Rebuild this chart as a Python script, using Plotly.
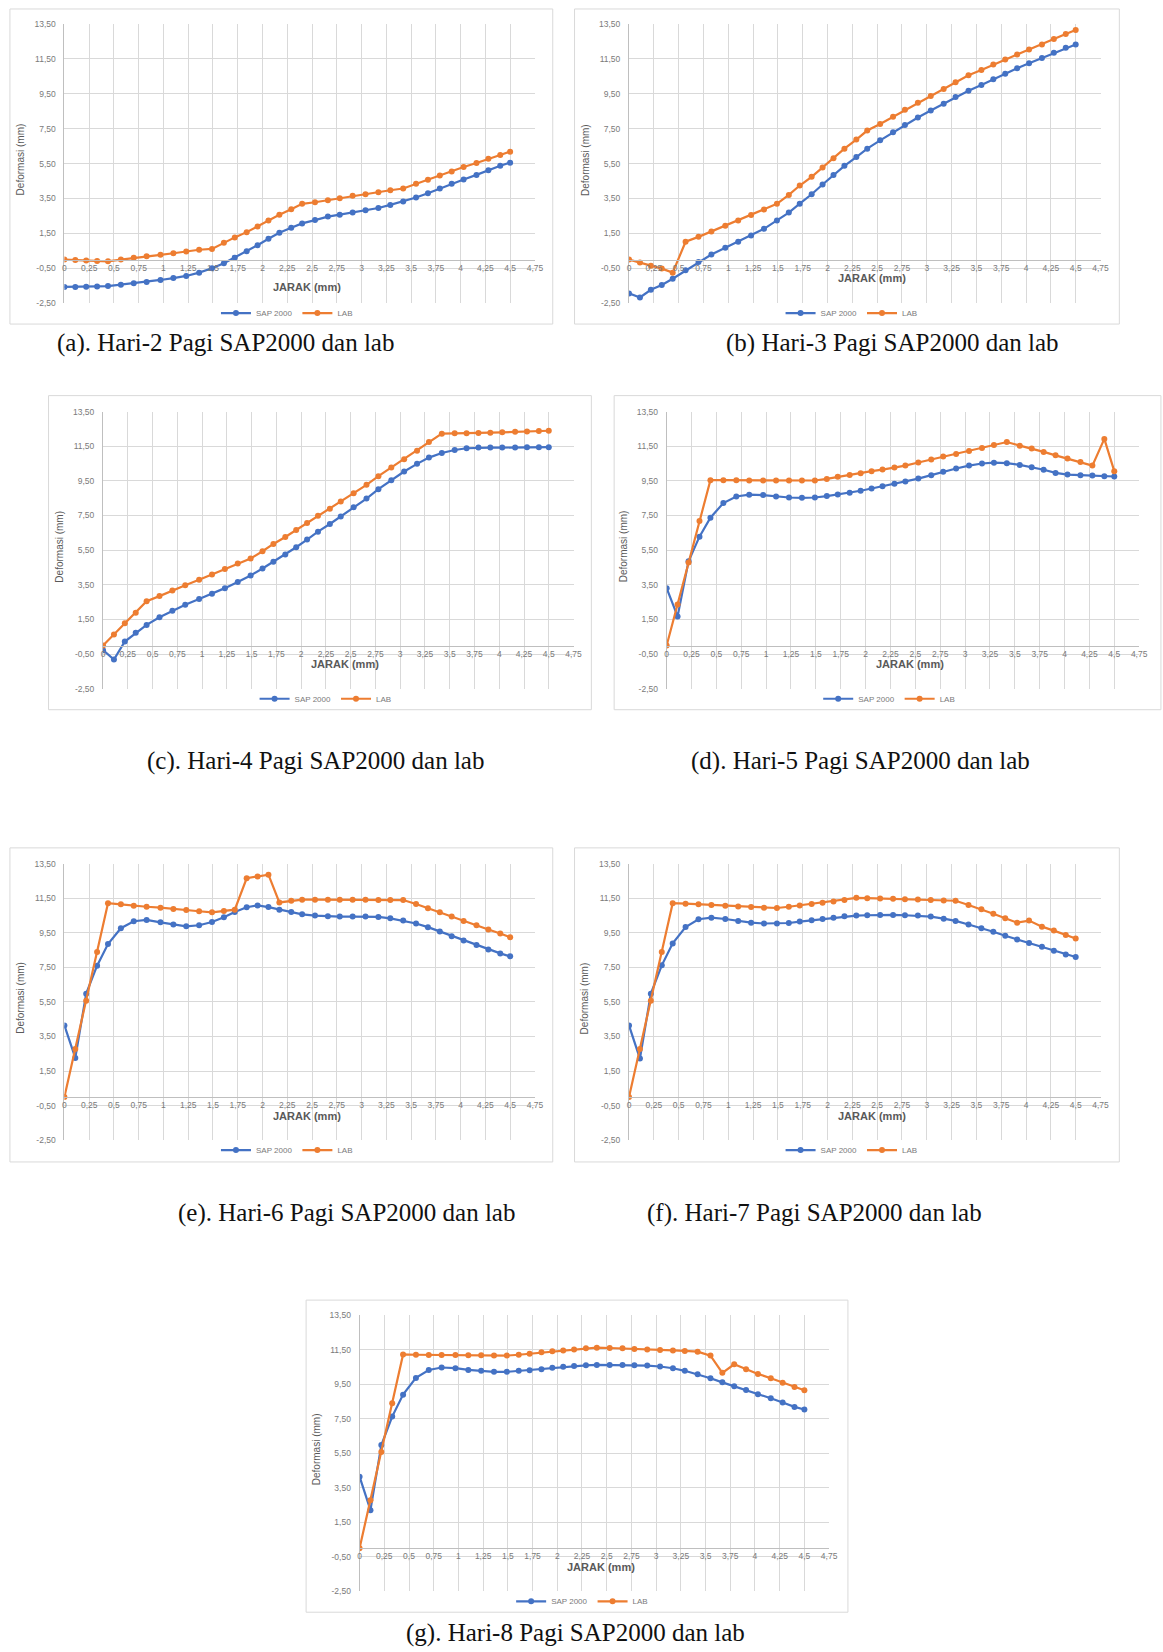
import plotly.graph_objects as go

W, H = 1163, 1652

# x positions (JARAK, mm) of the measured points
X = [0, 0.11, 0.22, 0.33, 0.44, 0.57, 0.70, 0.83, 0.97, 1.10, 1.23, 1.36, 1.49,
     1.61, 1.72, 1.84, 1.95, 2.06, 2.17, 2.29, 2.40, 2.53, 2.66, 2.78, 2.91,
     3.04, 3.17, 3.29, 3.42, 3.55, 3.67, 3.79, 3.91, 4.03, 4.16, 4.28, 4.40, 4.50]

# axis ticks
XT = [0, 0.25, 0.5, 0.75, 1, 1.25, 1.5, 1.75, 2, 2.25, 2.5, 2.75, 3, 3.25, 3.5, 3.75, 4, 4.25, 4.5, 4.75]
XTL = ["0", "0,25", "0,5", "0,75", "1", "1,25", "1,5", "1,75", "2", "2,25", "2,5", "2,75",
       "3", "3,25", "3,5", "3,75", "4", "4,25", "4,5", "4,75"]
YT = [-2.5, -0.5, 1.5, 3.5, 5.5, 7.5, 9.5, 11.5, 13.5]
YTL = ["-2,50", "-0,50", "1,50", "3,50", "5,50", "7,50", "9,50", "11,50", "13,50"]

# (a) Hari-2
sap_a = [-1.57, -1.57, -1.56, -1.54, -1.52, -1.44, -1.36, -1.29, -1.17, -1.06, -0.94, -0.75, -0.50,
         -0.21, 0.11, 0.48, 0.82, 1.19, 1.53, 1.82, 2.07, 2.26, 2.46, 2.57, 2.69, 2.82, 2.95,
         3.13, 3.32, 3.55, 3.80, 4.07, 4.34, 4.59, 4.85, 5.12, 5.37, 5.55]
lab_a = [0.00, -0.02, -0.06, -0.08, -0.10, 0.00, 0.10, 0.19, 0.27, 0.36, 0.46, 0.56, 0.61,
         0.96, 1.27, 1.57, 1.90, 2.23, 2.57, 2.88, 3.19, 3.28, 3.40, 3.51, 3.65, 3.74, 3.86,
         3.97, 4.07, 4.34, 4.57, 4.82, 5.05, 5.30, 5.53, 5.78, 5.99, 6.18]
# (b) Hari-3
sap_b = [-1.94, -2.17, -1.73, -1.46, -1.10, -0.62, -0.14, 0.29, 0.67, 1.02, 1.38, 1.76, 2.24,
         2.69, 3.20, 3.74, 4.30, 4.84, 5.37, 5.87, 6.35, 6.83, 7.29, 7.71, 8.14, 8.54, 8.92,
         9.31, 9.67, 10.00, 10.33, 10.65, 10.96, 11.25, 11.55, 11.84, 12.13, 12.32]
lab_b = [0.00, -0.17, -0.35, -0.52, -0.75, 1.02, 1.30, 1.61, 1.94, 2.24, 2.55, 2.86, 3.19,
         3.70, 4.24, 4.74, 5.28, 5.81, 6.35, 6.87, 7.39, 7.77, 8.18, 8.58, 8.98, 9.37, 9.77,
         10.15, 10.56, 10.86, 11.17, 11.46, 11.75, 12.03, 12.32, 12.63, 12.92, 13.15]
# (c) Hari-4
sap_c = [-0.27, -0.81, 0.23, 0.73, 1.19, 1.63, 2.01, 2.35, 2.68, 2.99, 3.31, 3.66, 4.04,
         4.44, 4.83, 5.25, 5.67, 6.11, 6.57, 7.01, 7.45, 7.97, 8.48, 9.02, 9.54, 10.04, 10.48,
         10.84, 11.11, 11.28, 11.38, 11.42, 11.42, 11.42, 11.43, 11.44, 11.44, 11.44]
lab_c = [0.00, 0.63, 1.28, 1.89, 2.55, 2.85, 3.18, 3.48, 3.79, 4.10, 4.42, 4.73, 5.02,
         5.44, 5.86, 6.26, 6.66, 7.07, 7.49, 7.89, 8.31, 8.79, 9.27, 9.77, 10.27, 10.75, 11.24,
         11.74, 12.22, 12.24, 12.24, 12.26, 12.28, 12.30, 12.33, 12.35, 12.37, 12.39]
# (d) Hari-5
sap_d = [3.31, 1.68, 4.86, 6.28, 7.37, 8.22, 8.60, 8.70, 8.68, 8.60, 8.54, 8.52, 8.54,
         8.62, 8.71, 8.81, 8.93, 9.06, 9.19, 9.33, 9.46, 9.63, 9.83, 10.02, 10.21, 10.38, 10.50,
         10.55, 10.52, 10.42, 10.29, 10.14, 9.96, 9.86, 9.83, 9.81, 9.77, 9.75]
lab_d = [0.00, 2.37, 4.79, 7.18, 9.54, 9.54, 9.54, 9.52, 9.52, 9.52, 9.52, 9.52, 9.52,
         9.61, 9.73, 9.84, 9.94, 10.06, 10.15, 10.27, 10.38, 10.56, 10.73, 10.90, 11.05, 11.22, 11.40,
         11.57, 11.74, 11.53, 11.36, 11.17, 10.97, 10.79, 10.59, 10.38, 11.92, 10.06]
# (e) Hari-6
sap_e = [4.14, 2.26, 5.98, 7.60, 8.85, 9.77, 10.17, 10.25, 10.11, 9.98, 9.88, 9.94, 10.13,
         10.40, 10.71, 10.98, 11.09, 10.99, 10.84, 10.71, 10.57, 10.50, 10.46, 10.44, 10.44, 10.44, 10.42,
         10.34, 10.21, 10.04, 9.83, 9.58, 9.31, 9.06, 8.79, 8.54, 8.31, 8.14]
lab_e = [0.00, 2.78, 5.57, 8.39, 11.22, 11.15, 11.07, 11.01, 10.96, 10.88, 10.82, 10.75, 10.69,
         10.76, 10.84, 12.66, 12.76, 12.87, 11.26, 11.36, 11.42, 11.42, 11.42, 11.42, 11.42, 11.42, 11.40,
         11.40, 11.40, 11.17, 10.92, 10.69, 10.44, 10.19, 9.94, 9.69, 9.46, 9.25]
# (f) Hari-7
sap_f = [4.14, 2.22, 5.98, 7.62, 8.89, 9.84, 10.29, 10.38, 10.30, 10.19, 10.09, 10.04, 10.04,
         10.07, 10.15, 10.23, 10.30, 10.38, 10.46, 10.50, 10.52, 10.54, 10.54, 10.52, 10.50, 10.44, 10.32,
         10.19, 9.98, 9.77, 9.56, 9.33, 9.12, 8.91, 8.70, 8.47, 8.25, 8.10]
lab_f = [0.00, 2.78, 5.57, 8.39, 11.22, 11.19, 11.15, 11.11, 11.07, 11.03, 10.99, 10.96, 10.94,
         11.01, 11.09, 11.17, 11.24, 11.32, 11.40, 11.53, 11.51, 11.49, 11.47, 11.45, 11.43, 11.40, 11.38,
         11.36, 11.11, 10.86, 10.61, 10.34, 10.09, 10.21, 9.86, 9.63, 9.37, 9.17]
# (g) Hari-8
sap_g = [4.14, 2.20, 5.97, 7.62, 8.89, 9.86, 10.32, 10.46, 10.42, 10.32, 10.27, 10.21, 10.21,
         10.27, 10.30, 10.36, 10.44, 10.50, 10.55, 10.59, 10.61, 10.61, 10.61, 10.59, 10.57, 10.52, 10.42,
         10.27, 10.07, 9.84, 9.60, 9.38, 9.16, 8.91, 8.68, 8.43, 8.18, 8.03]
lab_g = [0.00, 2.78, 5.57, 8.39, 11.22, 11.20, 11.19, 11.19, 11.19, 11.17, 11.17, 11.15, 11.15,
         11.20, 11.26, 11.34, 11.40, 11.45, 11.51, 11.57, 11.61, 11.59, 11.57, 11.53, 11.51, 11.47, 11.45,
         11.42, 11.38, 11.15, 10.15, 10.65, 10.36, 10.09, 9.84, 9.58, 9.33, 9.14]

captions = ["(a). Hari-2 Pagi SAP2000 dan lab", "(b) Hari-3 Pagi SAP2000 dan lab",
            "(c). Hari-4 Pagi SAP2000 dan lab", "(d). Hari-5 Pagi SAP2000 dan lab",
            "(e). Hari-6 Pagi SAP2000 dan lab", "(f). Hari-7 Pagi SAP2000 dan lab",
            "(g). Hari-8 Pagi SAP2000 dan lab"]
series = [(sap_a, lab_a), (sap_b, lab_b), (sap_c, lab_c), (sap_d, lab_d),
          (sap_e, lab_e), (sap_f, lab_f), (sap_g, lab_g)]

# layout geometry in pixels: box (x0,y0,x1,y1), plot (left, top, right, bottom), caption centre, JARAK offset
geo = [
    dict(box=(8, 4, 556, 321), plot=(63, 19, 538, 300), cap=(226, 340), jy=28),
    dict(box=(578, 4, 1128, 321), plot=(633, 19, 1109, 300), cap=(899, 340), jy=19),
    dict(box=(47, 393, 595, 709), plot=(102, 409, 577, 688), cap=(316, 761), jy=19),
    dict(box=(618, 393, 1170, 709), plot=(671, 409, 1148, 688), cap=(867, 761), jy=19),
    dict(box=(8, 848, 556, 1164), plot=(63, 864, 538, 1142), cap=(348, 1215), jy=19),
    dict(box=(578, 848, 1128, 1164), plot=(633, 864, 1109, 1142), cap=(820, 1215), jy=19),
    dict(box=(307, 1303, 854, 1617), plot=(361, 1318, 835, 1596), cap=(579, 1638), jy=19),
]

BLUE = "#4472C4"
ORANGE = "#ED7D31"
GRID = "#D9D9D9"
TXT = "#595959"


def px(x):
    return x / W


def py(y):
    return 1 - y / H


fig = go.Figure()
shapes = []
annotations = []
layout = {}

for i, (g, (sap, lab), cap) in enumerate(zip(geo, series, captions)):
    n = i + 1
    sfx = "" if n == 1 else str(n)
    xref, yref = "x" + sfx, "y" + sfx
    leg = "legend" + sfx
    L, T, R, B = g["plot"]
    xd = [px(L), px(R)]
    yd = [py(B), py(T)]
    zero_pos = yd[0] + (0 - (-2.5)) / 16 * (yd[1] - yd[0])

    fig.add_trace(go.Scatter(x=X, y=sap, mode="lines+markers", name="SAP 2000",
                             line=dict(color=BLUE, width=2.2), marker=dict(color=BLUE, size=6),
                             xaxis=xref, yaxis=yref, legend=leg))
    fig.add_trace(go.Scatter(x=X, y=lab, mode="lines+markers", name="LAB",
                             line=dict(color=ORANGE, width=2.2), marker=dict(color=ORANGE, size=6),
                             xaxis=xref, yaxis=yref, legend=leg))

    layout["xaxis" + sfx] = dict(domain=xd, range=[0, 4.75], anchor="free", position=zero_pos,
                                 tickmode="array", tickvals=XT, ticktext=XTL,
                                 showgrid=True, gridcolor=GRID, gridwidth=1,
                                 showline=True, linecolor="#BFBFBF", linewidth=1,
                                 zeroline=False, ticks="",
                                 tickfont=dict(family="Liberation Sans, Arial", size=8.5, color="#7a7a7a"),
                                 fixedrange=True)
    layout["yaxis" + sfx] = dict(domain=yd, range=[-2.5, 13.5], anchor=xref,
                                 tickmode="array", tickvals=YT, ticktext=YTL,
                                 showgrid=True, gridcolor=GRID, gridwidth=1,
                                 showline=True, linecolor="#BFBFBF", linewidth=1,
                                 zeroline=False, ticks="", ticklabelstandoff=6,
                                 tickfont=dict(family="Liberation Sans, Arial", size=8.5, color="#7a7a7a"),
                                 fixedrange=True)
    layout[leg] = dict(orientation="h", x=px(L + 153), xanchor="left", y=py(B + 10), yanchor="middle",
                       font=dict(family="Liberation Sans, Arial", size=8, color="#7a7a7a"),
                       bgcolor="rgba(0,0,0,0)", itemwidth=30, tracegroupgap=0)

    bx0, by0, bx1, by1 = g["box"]
    shapes.append(dict(type="rect", xref="paper", yref="paper",
                       x0=px(bx0), x1=px(bx1), y0=py(by1), y1=py(by0),
                       line=dict(color=GRID, width=1), fillcolor="rgba(0,0,0,0)", layer="below"))

    axis_px = T + (13.5 - 0) / 16 * (B - T)
    annotations.append(dict(text="<b>JARAK (mm)</b>", xref="paper", yref="paper",
                            x=px((L + R) / 2 + 7), y=py(axis_px + g["jy"]),
                            xanchor="center", yanchor="middle", showarrow=False,
                            font=dict(family="Liberation Sans, Arial", size=11, color=TXT)))
    annotations.append(dict(text="Deformasi (mm)", xref="paper", yref="paper",
                            x=px(L - 44), y=py((T + B) / 2 - 4), textangle=-90,
                            xanchor="center", yanchor="middle", showarrow=False,
                            font=dict(family="Liberation Sans, Arial", size=10, color=TXT)))
    annotations.append(dict(text=cap, xref="paper", yref="paper",
                            x=px(g["cap"][0]), y=py(g["cap"][1]),
                            xanchor="center", yanchor="middle", showarrow=False,
                            font=dict(family="Liberation Serif, Times New Roman, serif", size=25, color="#111111")))

fig.update_layout(width=W, height=H, margin=dict(l=0, r=0, t=0, b=0),
                  paper_bgcolor="white", plot_bgcolor="white",
                  shapes=shapes, annotations=annotations, showlegend=True, **layout)

fig.write_html("out.html", config={"displayModeBar": False},
               post_script="document.body.style.margin='0';document.body.style.overflow='hidden';")
